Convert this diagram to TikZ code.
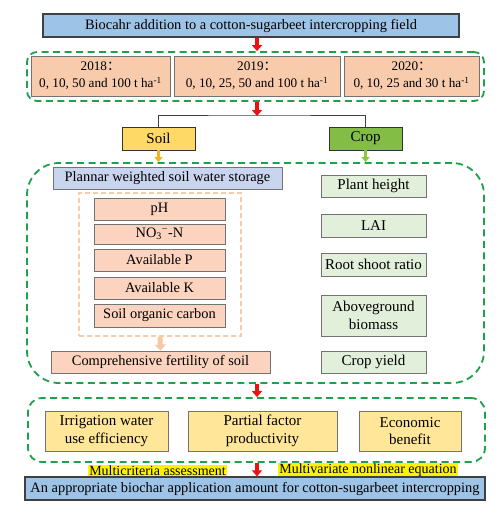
\documentclass[tikz,border=0pt]{standalone}
\usepackage{fontspec}
\setmainfont{Liberation Serif}
\newfontfamily\cjk{Noto Sans CJK SC}
\usetikzlibrary{arrows.meta,calc}
\definecolor{topblue}{HTML}{9DC3E6}
\definecolor{peach}{HTML}{F8CBAD}
\definecolor{soilyel}{HTML}{FFD966}
\definecolor{cropgrn}{HTML}{84BD45}
\definecolor{lav}{HTML}{C9D4EE}
\definecolor{soilbox}{HTML}{FBD3BE}
\definecolor{cropbox}{HTML}{E2EFDA}
\definecolor{lowyel}{HTML}{FFE699}
\definecolor{dgreen}{HTML}{1FA04A}
\definecolor{odash}{HTML}{F8CBAD}
\definecolor{redarr}{HTML}{EE1111}
\definecolor{orarr}{HTML}{F5B31E}
\definecolor{grarr}{HTML}{8CC63F}
\definecolor{ltorarr}{HTML}{F8C8A6}
\begin{document}
\begin{tikzpicture}[x=1pt,y=-1pt,
  every node/.style={inner sep=0pt,align=center,font=\fontsize{14.4}{17}\selectfont},
  bigf/.style={font=\fontsize{15}{17.5}\selectfont},
  yearf/.style={font=\fontsize{13.2}{17}\selectfont},
  bx/.style={draw=black!55,line width=0.8pt},
  darkbx/.style={draw=black!75,line width=1.3pt},
  grdash/.style={draw=dgreen,line width=1.8pt,dash pattern=on 7pt off 4.5pt},
  ordash/.style={draw=odash,line width=1.4pt,dash pattern=on 5pt off 3pt},
  blockarr/.style={line width=3.5pt,-{Triangle[length=6pt,width=10pt]}},
  hl/.style={fill=yellow,inner xsep=1pt,inner ysep=1pt,font=\fontsize{14}{16}\selectfont},
  tree/.style={draw=black!75,line width=0.8pt}]
\useasboundingbox (0,0) rectangle (498,512);
% top
\node[darkbx,fill=topblue,minimum width=416pt,minimum height=23pt] (top) at (251,25.5) {Biocahr addition to a cotton-sugarbeet intercropping field};
\node[grdash,rounded corners=10pt,minimum width=457pt,minimum height=49pt] (d1) at (255.5,76.5) {};
\node[bx,yearf,fill=peach,minimum width=139pt,minimum height=40pt] (y18) at (100.5,76) {2018{\cjk ：}\\0, 10, 50 and 100 t ha\textsuperscript{-1}};
\node[bx,yearf,fill=peach,minimum width=166pt,minimum height=40pt] (y19) at (257,76) {2019{\cjk ：}\\0, 10, 25, 50 and 100 t ha\textsuperscript{-1}};
\node[bx,yearf,fill=peach,minimum width=135pt,minimum height=40pt] (y20) at (411.5,76) {2020{\cjk ：}\\0, 10, 25 and 30 t ha\textsuperscript{-1}};
\coordinate (ax) at (257,0);
\coordinate (split) at (257,115);
\node[bx,bigf,draw=black!80,fill=soilyel,minimum width=73pt,minimum height=23pt] (soil) at (158.5,138.5) {Soil};
\node[bx,bigf,draw=black!80,fill=cropgrn,minimum width=73pt,minimum height=23pt] (crop) at (365.5,138.5) {Crop};
% middle container
\node[grdash,rounded corners=32pt,minimum width=457pt,minimum height=220pt] (d2) at (255.5,273) {};
\node[bx,fill=lav,minimum width=229pt,minimum height=22pt] (swc) at (167.5,178) {Plannar weighted soil water storage};
\node[ordash,minimum width=162pt,minimum height=143pt] (od) at (160,264.5) {};
\node[bx,fill=soilbox,minimum width=131pt,minimum height=22pt] (ph) at (159.5,209) {pH};
\node[bx,fill=soilbox,minimum width=131pt,minimum height=20pt] (no) at (159.5,234) {NO\textsubscript{3}\textsuperscript{−}-N};
\node[bx,fill=soilbox,minimum width=131pt,minimum height=22pt] (ap) at (159.5,260) {Available P};
\node[bx,fill=soilbox,minimum width=131pt,minimum height=22pt] (ak) at (159.5,288) {Available K};
\node[bx,fill=soilbox,minimum width=131pt,minimum height=23pt] (soc) at (159.5,315.5) {Soil organic carbon};
\node[bx,fill=soilbox,minimum width=219pt,minimum height=22pt] (comp) at (160.5,362) {Comprehensive fertility of soil};
\node[bx,bigf,fill=cropbox,minimum width=105pt,minimum height=22pt] (ph2) at (373.5,186) {Plant height};
\node[bx,bigf,fill=cropbox,minimum width=105pt,minimum height=23pt] (lai) at (373.5,225.5) {LAI};
\node[bx,bigf,fill=cropbox,minimum width=105pt,minimum height=23pt] (rsr) at (373.5,264.5) {Root shoot ratio};
\node[bx,bigf,fill=cropbox,minimum width=105pt,minimum height=41pt] (agb) at (373.5,315.5) {Aboveground\\biomass};
\node[bx,bigf,fill=cropbox,minimum width=105pt,minimum height=22pt] (cy) at (373.5,362) {Crop yield};
% lower container
\node[grdash,rounded corners=14pt,minimum width=457pt,minimum height=64pt] (d3) at (256.5,430) {};
\node[bx,bigf,fill=lowyel,minimum width=123pt,minimum height=40pt] (iwue) at (106.5,431) {Irrigation water\\use efficiency};
\node[bx,bigf,fill=lowyel,minimum width=149pt,minimum height=40pt] (pfp) at (262.5,431) {Partial factor\\productivity};
\node[bx,bigf,fill=lowyel,minimum width=102pt,minimum height=40pt] (eco) at (410,431) {Economic\\benefit};
\node[hl] (mca) at (157.5,470.5) {Multicriteria assessment};
\node[hl] (mne) at (368,470.5) {Multivariate nonlinear equation};
\node[darkbx,fill=topblue,minimum width=460pt,minimum height=23pt] (bot) at (255,488.5) {An appropriate biochar application amount for cotton-sugarbeet intercropping};
% connectors
\draw[blockarr,redarr] (top.south -| ax) -- (d1.north -| ax);
\draw[blockarr,redarr] (d1.south -| ax) -- ([yshift=-1pt]split);
\draw[tree] (soil.north) |- (split) -| (crop.north);
\draw[line width=3pt,orarr,-{Triangle[length=5pt,width=8pt]}] (soil.south) -- (soil.south |- d2.north);
\draw[line width=3pt,grarr,-{Triangle[length=5pt,width=8pt]}] (crop.south) -- (crop.south |- d2.north);
\draw[line width=5pt,ltorarr,-{Triangle[length=6pt,width=11pt]}] (od.south) -- (comp.north);
\draw[blockarr,redarr] (d2.south -| ax) -- (d3.north -| ax);
\draw[blockarr,redarr] (d3.south -| ax) -- (bot.north -| ax);
\end{tikzpicture}
\end{document}
